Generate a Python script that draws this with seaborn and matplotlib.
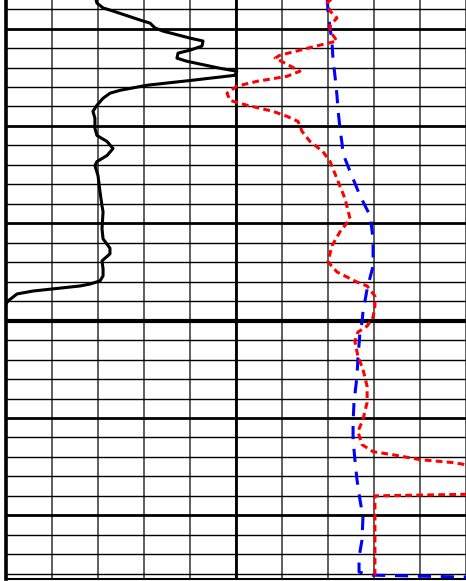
import numpy as np
import pandas as pd
import matplotlib
matplotlib.use("Agg")
import matplotlib.pyplot as plt
from matplotlib.ticker import MultipleLocator
import seaborn as sns

# left track: gamma ray (black, solid), scale 0-150
gr_depth = [3.30, 3.69, 3.94, 4.10, 4.56, 4.72, 4.97, 5.13, 5.49, 5.64,
            5.90, 6.11, 6.26, 6.52, 6.68, 7.04, 7.19, 7.40, 7.65, 7.91,
            8.17, 8.32, 8.58, 8.94, 9.25, 9.61, 10.13, 10.49, 10.80, 11.16,
            11.52, 11.83, 12.04, 12.55, 13.38, 14.10, 14.41, 15.28, 15.80, 16.28,
            16.57, 16.93, 17.34, 17.70, 17.96, 18.12, 18.22, 18.48, 18.63, 18.99,
            19.15]
gr_value = [58.0, 59.3, 63.3, 69.8, 87.4, 93.9, 97.2, 102.4, 120.0, 128.5,
            127.8, 120.0, 112.2, 111.5, 118.0, 139.6, 150.5, 149.3, 122.0, 92.0,
            74.4, 67.8, 63.3, 59.3, 56.7, 58.0, 58.0, 59.3, 65.9, 69.8,
            65.9, 59.3, 58.0, 60.0, 61.3, 62.6, 63.3, 62.6, 63.3, 67.8,
            67.8, 62.6, 63.3, 63.3, 61.3, 54.8, 48.3, 17.6, 7.2, 1.3,
            0.0]

# right track: neutron (red, short dashes), scale 0-100
nphi_depth = [3.30, 3.69, 4.10, 4.46, 4.82, 5.13, 5.64, 5.85, 6.11, 6.37,
              6.52, 6.78, 7.19, 7.45, 7.71, 7.96, 8.32, 8.69, 8.94, 9.25,
              9.51, 9.77, 10.28, 10.80, 11.32, 11.83, 12.71, 13.74, 14.77, 15.44,
              16.16, 16.98, 17.50, 18.02, 18.22, 18.74, 19.25, 19.82, 20.28, 20.59,
              21.06, 21.83, 22.50, 23.38, 24.20, 25.08, 25.70, 26.37, 26.73, 26.89,
              27.14, 27.29, 27.40, 28.17, 28.89, 29.00, 33.12]
nphi_value = [43.0, 39.6, 40.9, 43.9, 40.9, 40.9, 43.9, 36.5, 27.8, 19.1,
              17.0, 21.3, 27.8, 22.2, 9.1, 0.4, -3.9, -2.6, 4.8, 16.1,
              22.2, 27.0, 28.7, 32.2, 37.8, 40.9, 43.9, 47.4, 49.6, 45.2,
              41.7, 40.0, 43.9, 52.6, 57.0, 60.4, 60.4, 59.6, 57.0, 53.0,
              51.7, 53.0, 55.2, 57.0, 57.0, 55.2, 53.0, 54.8, 59.6, 68.3,
              80.0, 94.3, 100.0, 114.8, 114.8, 60.4, 60.4]

# right track: density (blue, long dashes), same scale
rhob_depth = [3.30, 4.10, 4.97, 5.64, 6.62, 7.40, 8.43, 9.10, 10.13, 10.90,
              11.42, 12.34, 13.58, 14.61, 15.80, 17.19, 18.38, 19.56, 20.08, 20.59,
              21.98, 22.86, 24.20, 25.23, 26.11, 27.14, 28.17, 29.20, 30.08, 31.26,
              32.14, 32.91, 33.07, 33.17, 33.20]
rhob_value = [39.6, 40.0, 40.9, 41.7, 42.2, 43.0, 43.9, 44.3, 45.2, 46.1,
              46.5, 49.6, 53.9, 58.3, 59.6, 59.6, 57.0, 55.2, 54.8, 53.9,
              53.0, 52.6, 51.3, 50.9, 50.9, 51.7, 52.6, 53.9, 55.2, 54.8,
              53.5, 53.5, 58.3, 100.0, 130.0]

top_depth = 3.43
base_depth = 33.27

sns.set_style("white")
fig = plt.figure(figsize=(4.66, 5.81), dpi=100)
ax = fig.add_axes([6 / 466, 2 / 581, 460 / 466, 1.0])

# grid of the log: 10 divisions across both tracks
ax.set_xlim(0, 10)
ax.set_ylim(base_depth, top_depth)
ax.xaxis.set_major_locator(MultipleLocator(1))
ax.yaxis.set_major_locator(MultipleLocator(5))
ax.yaxis.set_minor_locator(MultipleLocator(1))
ax.grid(which="major", axis="x", color="#333333", lw=1.1)
ax.grid(which="major", axis="y", color="black", lw=2.0)
ax.grid(which="minor", axis="y", color="black", lw=1.0)
ax.axvline(5, color="black", lw=2.0)
ax.axhline(20, color="black", lw=3.0)
ax.tick_params(which="both", length=0, labelbottom=False, labelleft=False)
ax.spines["left"].set_linewidth(2.6)
ax.spines["left"].set_color("black")
ax.spines["bottom"].set_linewidth(1.5)
ax.spines["bottom"].set_color("black")
ax.spines["top"].set_visible(False)
ax.spines["right"].set_visible(False)

# left track curve, 0-150 over the left half
axl = ax.twiny()
df_gr = pd.DataFrame({"depth": gr_depth, "gr": gr_value})
sns.lineplot(data=df_gr, x="gr", y="depth", sort=False, estimator=None,
             color="black", lw=2.2, ax=axl)
axl.set_xlim(0, 300)
axl.set_ylim(base_depth, top_depth)
axl.axis("off")

# right track curves, 0-100 over the right half
axr = ax.twiny()
df_n = pd.DataFrame({"depth": nphi_depth, "nphi": nphi_value})
df_d = pd.DataFrame({"depth": rhob_depth, "rhob": rhob_value})
sns.lineplot(data=df_d, x="rhob", y="depth", sort=False, estimator=None,
             color="#0000ff", lw=2.2, linestyle=(0, (4.3, 3.2)), ax=axr)
sns.lineplot(data=df_n, x="nphi", y="depth", sort=False, estimator=None,
             color="#ff0000", lw=2.2, linestyle=(0, (2.2, 1.4)), ax=axr)
axr.set_xlim(-100, 100)
axr.set_ylim(base_depth, top_depth)
axr.axis("off")

fig.savefig("out.png", dpi=100)
